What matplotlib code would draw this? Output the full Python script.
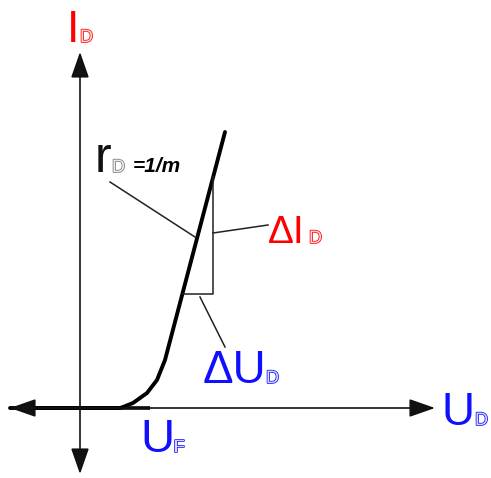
import matplotlib
matplotlib.use("Agg")
import matplotlib.pyplot as plt
import matplotlib.patheffects as pe

# Characteristic curve (U, I) in chart units (origin at the axes crossing)
curve_u = [-70, 40, 43, 53, 67, 77, 85, 145]
curve_i = [0, 0, 1, 5, 15, 28, 48, 276]

# Axis extents
u_axis = [-70, 355]
i_axis = [-66, 356]
thick_end = 70

# Slope triangle
tri_u = [103, 133, 133]
tri_i = [114, 114, 231]

# Leader lines
lead_r_u, lead_r_i = [30, 115], [226, 171]
lead_di_u, lead_di_i = [133, 188], [175, 183]
lead_du_u, lead_du_i = [120, 145], [111, 61]

RED = "#ff0000"
BLUE = "#1010ff"

plt.rcParams['font.family'] = ['Liberation Sans', 'DejaVu Sans']
fig = plt.figure(figsize=(4.91, 4.78), dpi=100)
ax = fig.add_axes([0, 0, 1, 1])
ax.set_xlim(-80, 411)
ax.set_ylim(-70, 408)
ax.axis('off')

ap = dict(arrowstyle='-|>,head_length=0.8,head_width=0.28', mutation_scale=20,
          color='#111111', lw=1.2, shrinkA=0, shrinkB=0)
# horizontal axis
ax.annotate('', xy=(u_axis[1], 0), xytext=(0, 0), arrowprops=ap)
ax.annotate('', xy=(u_axis[0], 0), xytext=(0, 0), arrowprops=ap)
# vertical axis
ax.annotate('', xy=(0, i_axis[1]), xytext=(0, 0), arrowprops=ap)
ax.annotate('', xy=(0, i_axis[0]), xytext=(0, 0), arrowprops=ap)

ax.plot([u_axis[0] + 8, thick_end], [0, 0], color='black', lw=2.6, solid_capstyle='butt')
ax.plot(curve_u, curve_i, color='black', lw=2.8, solid_capstyle='round', solid_joinstyle='round')

ax.plot(tri_u, tri_i, color='#222222', lw=1.1)
ax.plot(lead_r_u, lead_r_i, color='#222222', lw=1.1)
ax.plot(lead_di_u, lead_di_i, color='#222222', lw=1.1)
ax.plot(lead_du_u, lead_du_i, color='#222222', lw=1.1)

def sub(x, y, s, col, fill, size=13):
    ax.text(x, y, s, color=fill, fontsize=size, ha='left', va='baseline',
            path_effects=[pe.withStroke(linewidth=1.1, foreground=col)])

# I_D
ax.text(-13, 366, 'I', color=RED, fontsize=32, ha='left', va='baseline')
sub(0, 366, 'D', RED, '#ffd6d6')
# U_D
ax.text(362, -17, 'U', color=BLUE, fontsize=33, ha='left', va='baseline')
sub(395, -17, 'D', BLUE, '#d6d6ff')
# U_F
ax.text(60, -44, 'U', color=BLUE, fontsize=34, ha='left', va='baseline')
sub(94, -44, 'F', BLUE, '#d6d6ff')
# ΔU_D
ax.text(123, 25, 'ΔU', color=BLUE, fontsize=33, ha='left', va='baseline')
sub(186, 25, 'D', BLUE, '#d6d6ff')
# ΔI_D
ax.text(188, 165, 'ΔI', color=RED, fontsize=28, ha='left', va='baseline')
sub(229, 165, 'D', RED, '#ffd6d6')
# r_D = 1/m
ax.text(15, 236, 'r', color='#111111', fontsize=36, ha='left', va='baseline')
sub(32, 236, 'D', '#777777', '#eeeeee')
ax.text(53, 236, '=1/m', color='black', fontsize=15, fontweight='bold', fontstyle='italic',
        ha='left', va='baseline')

fig.savefig('out.png', dpi=100)
